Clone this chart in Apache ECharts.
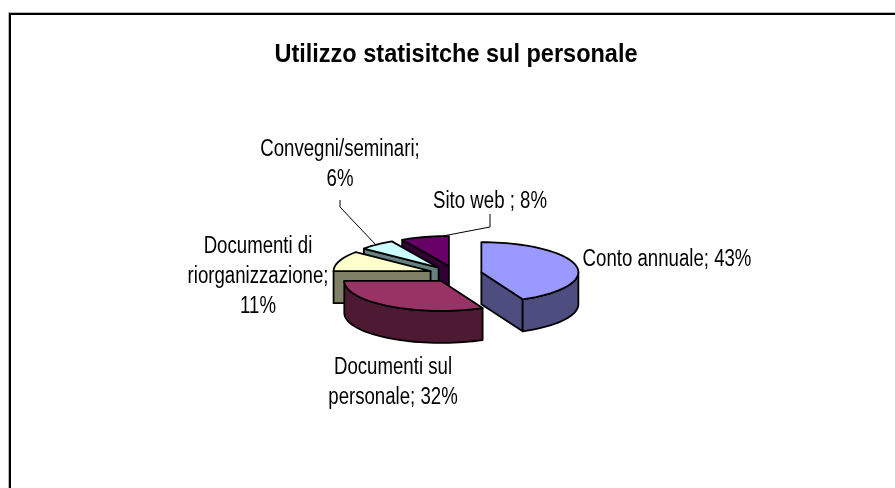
<!DOCTYPE html>
<html>
<head>
    <meta charset="utf-8">
    <title>Utilizzo statisitche sul personale</title>
    <script src="https://cdn.jsdelivr.net/npm/echarts@6/dist/echarts.min.js"></script>
    <style>
        html, body { margin: 0; padding: 0; background: #fff; }
        #chart { width: 895px; height: 488px; }
    </style>
</head>
<body>
<div id="chart"></div>
<script type="text/javascript">
    var chartTitle = 'Utilizzo statisitche sul personale';
    var categories = ['Conto annuale', 'Documenti sul\npersonale', 'Documenti di\nriorganizzazione', 'Convegni/seminari', 'Sito web '];
    var values = [43, 32, 11, 6, 8];
    var separators = ['; ', '; ', ';\n', ';\n', '; '];

    // colori: faccia superiore e fianco
    var topColors = ['#9999ff', '#993366', '#ffffcc', '#ccffff', '#660066'];
    var sideColors = ['#4d4d80', '#4d1933', '#808066', '#668080', '#330033'];

    // ordine di disegno, da dietro verso davanti
    var drawOrder = [4, 3, 2, 0, 1];

    // geometria della torta
    var pie = {cx: 455.5, cy: 274, rx: 97, ry: 30, depth: 32, explode: 26.5};

    // posizione delle etichette (centro del testo)
    var labelPos = [[667, 260], [393, 383], [258, 277], [340, 165], [490, 202]];
    var leaders = [
        [[340, 200], [340, 207], [376, 245]],
        [[490, 214], [490, 227], [443, 236]]
    ];
    var labelScale = 0.81, titleScale = 0.94;

    var total = values.reduce(function (a, b) { return a + b; }, 0);
    var angles = [];
    var sum = 0;
    for (var i = 0; i < values.length; i++) {
        angles.push([sum / total * 360, (sum + values[i]) / total * 360]);
        sum += values[i];
    }

    function arcPoint(org, deg, drop) {
        var r = deg * Math.PI / 180;
        return [org[0] + pie.rx * Math.sin(r), org[1] - pie.ry * Math.cos(r) + (drop || 0)];
    }

    function arcPoints(org, from, to, drop) {
        var pts = [];
        var n = Math.max(2, Math.ceil((to - from) / 3));
        for (var k = 0; k <= n; k++) {
            pts.push(arcPoint(org, from + (to - from) * k / n, drop));
        }
        return pts;
    }

    function face(points, color) {
        return {
            type: 'polygon',
            shape: {points: points},
            style: {fill: color, stroke: '#000', lineWidth: 1.8, lineJoin: 'round'}
        };
    }

    function radialFace(org, deg, color) {
        var p = arcPoint(org, deg);
        return face([org, p, [p[0], p[1] + pie.depth], [org[0], org[1] + pie.depth]], color);
    }

    function renderSlice(params, api) {
        var idx = api.value(0);
        var start = angles[idx][0], end = angles[idx][1];
        var mid = (start + end) / 2 * Math.PI / 180;
        // spostamento della fetta esplosa
        var org = [
            pie.cx + pie.explode * Math.sin(mid),
            pie.cy - pie.explode * pie.ry / pie.rx * Math.cos(mid)
        ];
        var children = [];
        if (Math.sin(start * Math.PI / 180) < -1e-6) {
            children.push(radialFace(org, start, sideColors[idx]));
        }
        if (Math.sin(end * Math.PI / 180) > 1e-6) {
            children.push(radialFace(org, end, sideColors[idx]));
        }
        var a = Math.max(start, 90), b = Math.min(end, 270);
        if (b > a) {
            var upper = arcPoints(org, a, b, 0);
            var lower = arcPoints(org, a, b, pie.depth).reverse();
            children.push(face(upper.concat(lower), sideColors[idx]));
        }
        children.push(face([org].concat(arcPoints(org, start, end, 0)), topColors[idx]));
        return {type: 'group', children: children};
    }

    var graphics = [
        // cornice: solo lato superiore e sinistro sono visibili
        {type: 'rect', shape: {x: 8.5, y: 12.5, width: 1000, height: 600}, style: {fill: 'none', stroke: '#b8b8b8', lineWidth: 1}},
        {type: 'rect', shape: {x: 10, y: 14, width: 1000, height: 600}, style: {fill: 'none', stroke: '#000', lineWidth: 2}},
        {
            type: 'text', x: 456, y: 55, scaleX: titleScale, z: 100,
            style: {text: chartTitle, fill: '#000', font: 'bold 25px "Liberation Sans", Arial, sans-serif', textAlign: 'center', textVerticalAlign: 'middle'}
        }
    ];
    leaders.forEach(function (pts) {
        graphics.push({type: 'polyline', z: 100, shape: {points: pts}, style: {fill: 'none', stroke: '#000', lineWidth: 1}});
    });
    categories.forEach(function (name, i) {
        graphics.push({
            type: 'text', x: labelPos[i][0], y: labelPos[i][1], scaleX: labelScale, z: 100,
            style: {
                text: name + separators[i] + values[i] + '%',
                fill: '#000',
                font: '23px "Liberation Sans", Arial, sans-serif',
                lineHeight: 30,
                textAlign: 'center',
                textVerticalAlign: 'middle'
            }
        });
    });

    var myChart = echarts.init(document.getElementById('chart'));
    myChart.setOption({
        backgroundColor: '#fff',
        animation: false,
        graphic: graphics,
        series: [{
            type: 'custom',
            coordinateSystem: 'none',
            silent: true,
            renderItem: renderSlice,
            data: drawOrder.map(function (i) { return [i]; })
        }]
    });
</script>
</body>
</html>
